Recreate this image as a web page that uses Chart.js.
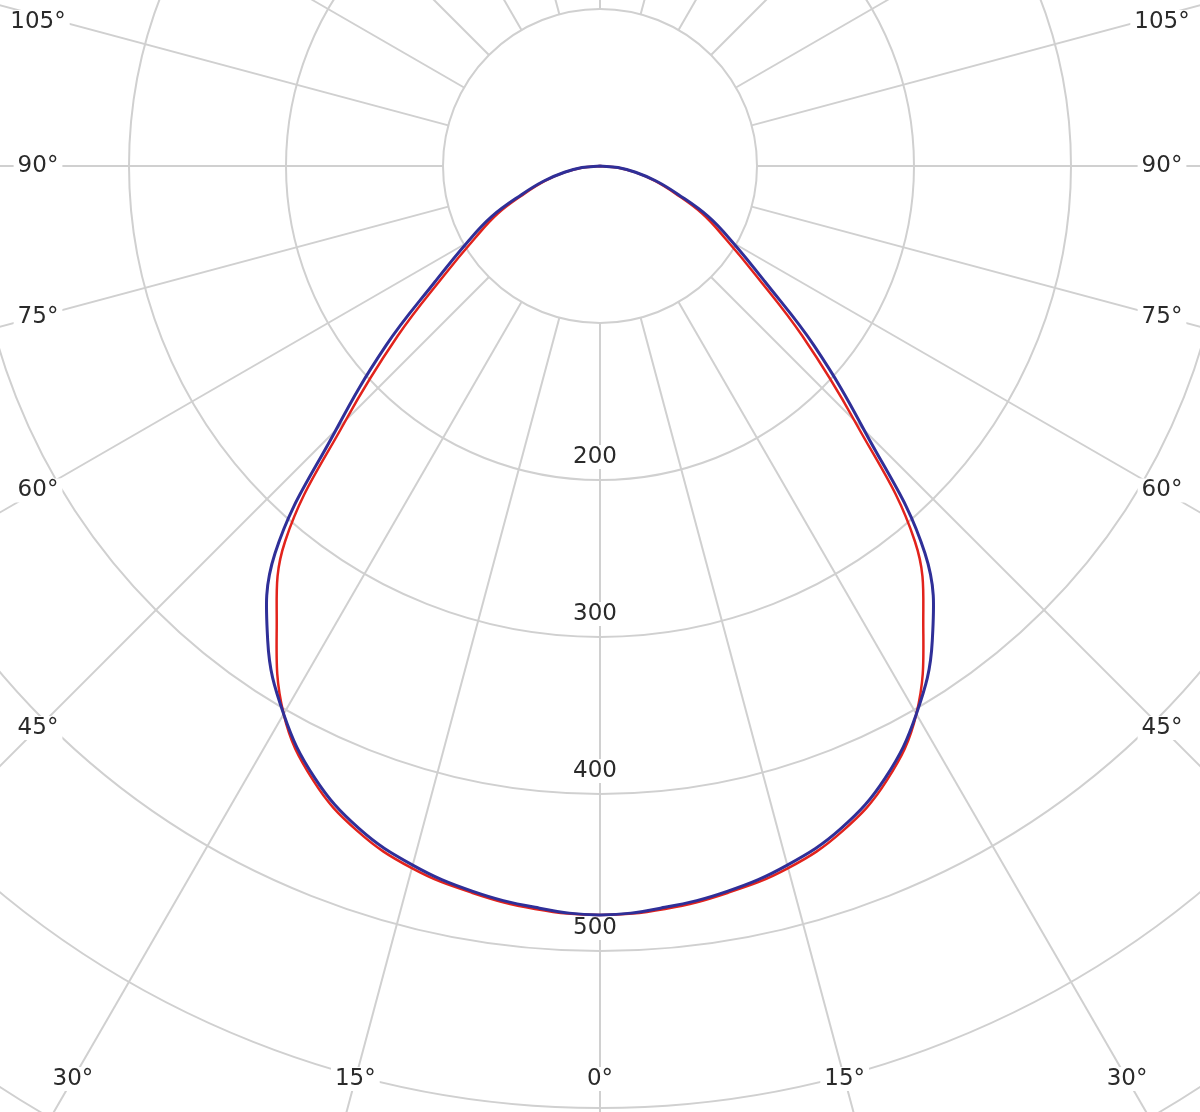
<!DOCTYPE html>
<html>
<head>
<meta charset="utf-8">
<script src="https://cdn.jsdelivr.net/npm/chart.js@4.4.1/dist/chart.umd.min.js"></script>
<style>
  html, body { margin: 0; padding: 0; background: #fff; }
  #wrap { position: relative; width: 1200px; height: 1112px; overflow: hidden; }
  #polar { position: absolute; }
</style>
</head>
<body>
<div id="wrap"><canvas id="polar" width="2512" height="2512"></canvas></div>
<script>
// Polar intensity diagram (cd), gamma 0° pointing down, mirrored left/right.
const GAMMA = [0, 5, 10, 15, 20, 25, 30, 35, 40, 45, 50, 55, 60, 65, 70, 75, 80, 85, 90];
const BLUE_CD = [477, 474, 469, 461, 449, 430, 403, 369, 322, 238, 178, 128, 98, 76, 53, 37, 23, 11.5, 0];
const RED_CD = [477, 475, 470, 463, 451, 432, 403, 359, 312, 229, 168, 121, 92, 72, 51, 36, 22.5, 11, 0];
const RING_LABELS = [200, 300, 400, 500];
const ANGLE_LABELS = [0, 15, 30, 45, 60, 75, 90, 105];

const STEP = 5;
const R_MAX = 800;
const GRID = '#d0d0d0';
const TEXT = '#2a2a2a';
const FONT = "23px 'DejaVu Sans', Verdana, sans-serif";

// where the pole sits inside the 1200x1112 picture
const POLE = { x: 600, y: 166 };
const VIEW = { w: 1200, h: 1112 };

const canvas = document.getElementById('polar');
canvas.style.left = (POLE.x - canvas.width / 2) + 'px';
canvas.style.top = (POLE.y - canvas.height / 2) + 'px';

const labels = Array.from({ length: 360 / STEP }, (_, i) => i * STEP);
const around = vals => labels.map(a => {
    const g = a <= 180 ? a : 360 - a;
    const k = GAMMA.indexOf(g);
    return k >= 0 ? vals[k] : null;
});

const polarFrame = {
    id: 'polarFrame',
    beforeDatasetsDraw(chart) {
        const r = chart.scales.r;
        const ctx = chart.ctx;
        ctx.save();

        // spokes every 15°, starting at the 100 cd ring
        ctx.strokeStyle = GRID;
        ctx.lineWidth = 2;
        const inner = r.getDistanceFromCenterForValue(100);
        for (let a = 0; a < 360; a += 15) {
            const p0 = r.getPointPosition(a / STEP, inner);
            const p1 = r.getPointPosition(a / STEP, r.drawingArea);
            ctx.beginPath();
            ctx.moveTo(p0.x, p0.y);
            ctx.lineTo(p1.x, p1.y);
            ctx.stroke();
        }

        ctx.font = FONT;
        ctx.textAlign = 'center';
        ctx.textBaseline = 'middle';
        const label = (txt, x, y) => {
            const w = ctx.measureText(txt).width;
            ctx.fillStyle = '#fff';
            ctx.fillRect(x - w / 2 - 4, y - 12, w + 8, 24);
            ctx.fillStyle = TEXT;
            ctx.fillText(txt, x, y);
        };

        // ring values along the 0° spoke
        RING_LABELS.forEach(v => {
            label(String(v), r.xCenter - 5, r.yCenter + r.getDistanceFromCenterForValue(v) - 23);
        });

        // angle values where each spoke leaves the picture
        const left = r.xCenter - POLE.x + 38;
        const right = r.xCenter - POLE.x + VIEW.w - 38;
        const bottom = r.yCenter - POLE.y + VIEW.h - 33;
        ANGLE_LABELS.forEach(a => {
            const idx = a === 0 ? [0] : [a / STEP, (360 - a) / STEP];
            idx.forEach(i => {
                const p = r.getPointPosition(i, 1);
                const dx = p.x - r.xCenter, dy = p.y - r.yCenter;
                const ts = [];
                if (dx < -1e-9) ts.push((left - r.xCenter) / dx);
                if (dx > 1e-9) ts.push((right - r.xCenter) / dx);
                if (dy > 1e-9) ts.push((bottom - r.yCenter) / dy);
                const t = Math.min(...ts);
                label(a + '°', r.xCenter + dx * t, Math.max(r.yCenter - POLE.y + 22, r.yCenter + dy * t));
            });
        });

        ctx.restore();
    }
};

new Chart(canvas, {
    type: 'radar',
    data: {
        labels: labels,
        datasets: [
            { data: around(BLUE_CD), borderColor: '#2f2f98', borderWidth: 3, fill: false, spanGaps: true },
            { data: around(RED_CD), borderColor: '#e2231c', borderWidth: 2.5, fill: false, spanGaps: true }
        ]
    },
    options: {
        responsive: false,
        animation: false,
        events: [],
        layout: { padding: 0 },
        elements: { line: { tension: 0.4 }, point: { radius: 0 } },
        plugins: { legend: { display: false }, tooltip: { enabled: false } },
        scales: {
            r: {
                min: 0,
                max: R_MAX,
                startAngle: 180,
                ticks: { display: false, stepSize: 100 },
                grid: { circular: true, color: GRID, lineWidth: 2 },
                angleLines: { display: false },
                pointLabels: { display: false }
            }
        }
    },
    plugins: [polarFrame]
});
</script>
</body>
</html>
